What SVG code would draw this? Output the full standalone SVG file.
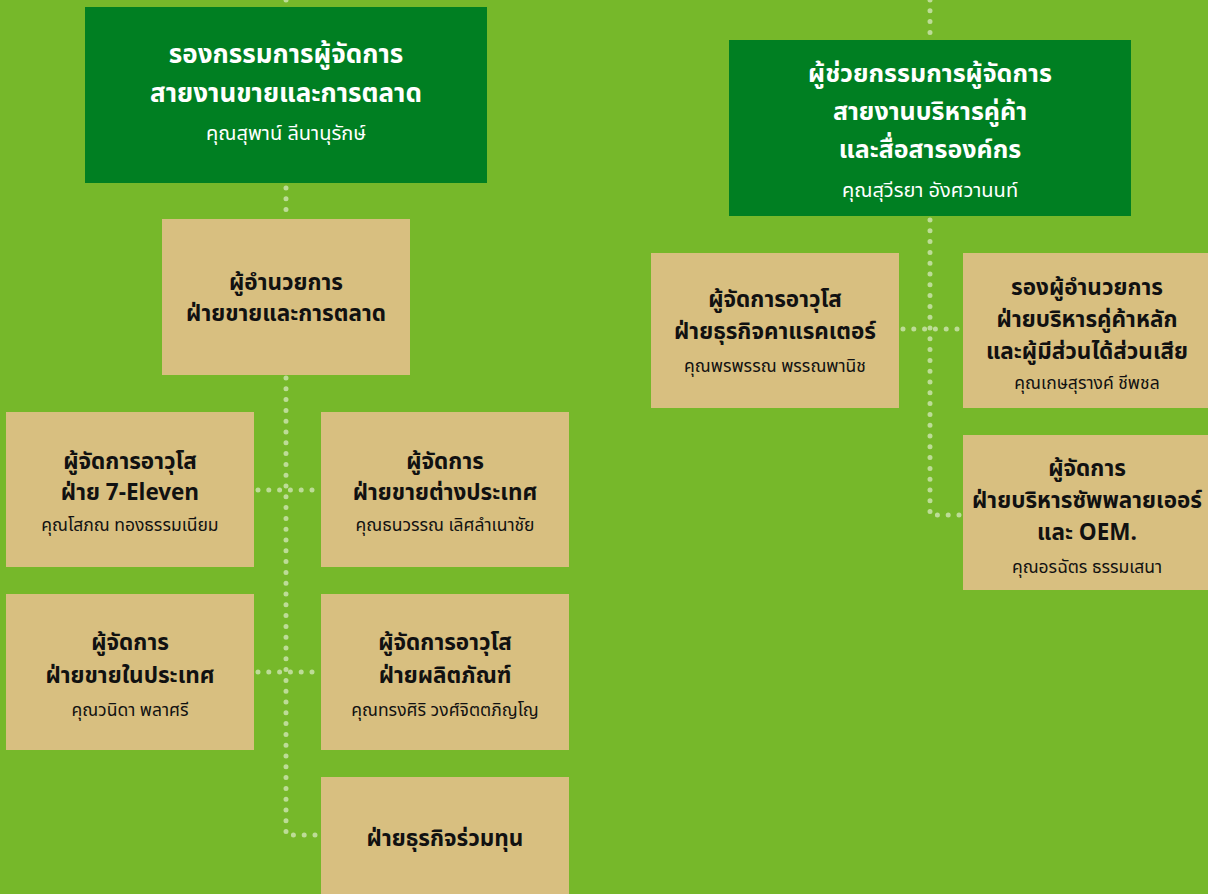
<svg xmlns="http://www.w3.org/2000/svg" width="1208" height="894" viewBox="0 0 1208 894">
<style>
.bg{fill:#76b82a}
.dk{fill:#007f22}
.tn{fill:#d8bf80}
.t{font-family:"Noto Sans Thai","Noto Sans","Liberation Sans",sans-serif;text-anchor:middle}
.wb{fill:#ffffff;font-weight:bold;font-size:26px}
.wn{fill:#ffffff;font-size:20px}
.bb{fill:#111111;font-weight:bold;font-size:22.5px}
.bn{fill:#111111;font-size:17.5px}
.c{fill:none;stroke:#bddc97;stroke-width:5;stroke-linecap:round;stroke-dasharray:0 10.8}
</style>
<rect class="bg" x="0" y="0" width="1208" height="894"/>
<g id="connectors">
<path class="c" d="M286 0 V8"/>
<path class="c" d="M286 188 V216"/>
<path class="c" d="M286 378 V835 H318"/>
<path class="c" d="M258 490 H318"/>
<path class="c" d="M258 672 H318"/>
<path class="c" d="M930 0 V38"/>
<path class="c" d="M930 220 V515 H960"/>
<path class="c" d="M903 329 H960"/>
</g>
<g id="n1">
<rect class="dk" x="85" y="7" width="402" height="176"/>
<text class="t wb" x="286" y="63">รองกรรมการผู้จัดการ</text>
<text class="t wb" x="286" y="102">สายงานขายและการตลาด</text>
<text class="t wn" x="286" y="140">คุณสุพาน์ ลีนานุรักษ์</text>
</g>
<g id="n2">
<rect class="dk" x="729" y="40" width="402" height="176"/>
<text class="t wb" x="930" y="82" style="font-size:25px">ผู้ช่วยกรรมการผู้จัดการ</text>
<text class="t wb" x="930" y="120" style="font-size:25px">สายงานบริหารคู่ค้า</text>
<text class="t wb" x="930" y="158" style="font-size:25px">และสื่อสารองค์กร</text>
<text class="t wn" x="930" y="197">คุณสุวีรยา อังศวานนท์</text>
</g>
<g id="n3">
<rect class="tn" x="162" y="219" width="248" height="156"/>
<text class="t bb" x="286" y="290">ผู้อำนวยการ</text>
<text class="t bb" x="286" y="321">ฝ่ายขายและการตลาด</text>
</g>
<g id="n4">
<rect class="tn" x="6" y="412" width="248" height="155"/>
<text class="t bb" x="130" y="469">ผู้จัดการอาวุโส</text>
<text class="t bb" x="130" y="500">ฝ่าย 7-Eleven</text>
<text class="t bn" x="130" y="531">คุณโสภณ ทองธรรมเนียม</text>
</g>
<g id="n5">
<rect class="tn" x="321" y="412" width="248" height="155"/>
<text class="t bb" x="445" y="469">ผู้จัดการ</text>
<text class="t bb" x="445" y="500">ฝ่ายขายต่างประเทศ</text>
<text class="t bn" x="445" y="531">คุณธนวรรณ เลิศลำเนาชัย</text>
</g>
<g id="n6">
<rect class="tn" x="6" y="594" width="248" height="156"/>
<text class="t bb" x="130" y="650">ผู้จัดการ</text>
<text class="t bb" x="130" y="683">ฝ่ายขายในประเทศ</text>
<text class="t bn" x="130" y="716">คุณวนิดา พลาศรี</text>
</g>
<g id="n7">
<rect class="tn" x="321" y="594" width="248" height="156"/>
<text class="t bb" x="445" y="650">ผู้จัดการอาวุโส</text>
<text class="t bb" x="445" y="683">ฝ่ายผลิตภัณฑ์</text>
<text class="t bn" x="445" y="716">คุณทรงศิริ วงศ์จิตตภิญโญ</text>
</g>
<g id="n8">
<rect class="tn" x="321" y="777" width="248" height="130"/>
<text class="t bb" x="445" y="846">ฝ่ายธุรกิจร่วมทุน</text>
</g>
<g id="n9">
<rect class="tn" x="651" y="253" width="248" height="155"/>
<text class="t bb" x="775" y="307">ผู้จัดการอาวุโส</text>
<text class="t bb" x="775" y="339">ฝ่ายธุรกิจคาแรคเตอร์</text>
<text class="t bn" x="775" y="372">คุณพรพรรณ พรรณพานิช</text>
</g>
<g id="n10">
<rect class="tn" x="963" y="253" width="248" height="155"/>
<text class="t bb" x="1087" y="295">รองผู้อำนวยการ</text>
<text class="t bb" x="1087" y="327">ฝ่ายบริหารคู่ค้าหลัก</text>
<text class="t bb" x="1087" y="359">และผู้มีส่วนได้ส่วนเสีย</text>
<text class="t bn" x="1087" y="389">คุณเกษสุรางค์ ชีพชล</text>
</g>
<g id="n11">
<rect class="tn" x="963" y="435" width="248" height="155"/>
<text class="t bb" x="1087" y="476">ผู้จัดการ</text>
<text class="t bb" x="1087" y="508">ฝ่ายบริหารซัพพลายเออร์</text>
<text class="t bb" x="1087" y="540">และ OEM.</text>
<text class="t bn" x="1087" y="573">คุณอรฉัตร ธรรมเสนา</text>
</g>
</svg>
